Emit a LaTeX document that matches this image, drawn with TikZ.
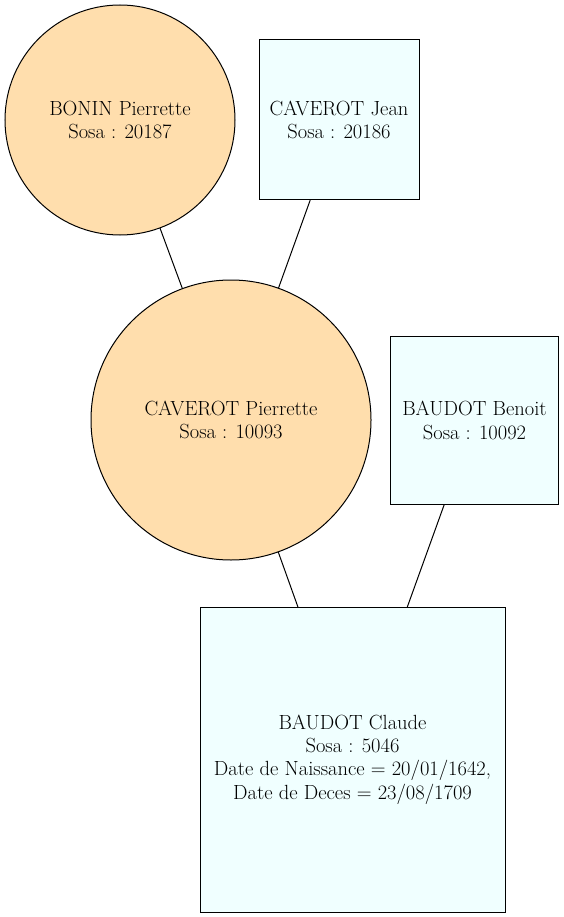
\documentclass[tikz,border=0pt]{standalone}
\usetikzlibrary{positioning}

\definecolor{femmefill}{RGB}{255,222,173}
\definecolor{hommefill}{RGB}{240,255,255}

\tikzset{
	personne/.style={draw=black, line width=1pt, inner sep=0pt, outer sep=0pt, align=center,
		font=\fontsize{20.5}{23.3}\selectfont},
	femme/.style={personne, circle, fill=femmefill},
	homme/.style={personne, rectangle, fill=hommefill},
	lien/.style={draw=black, line width=1pt}
}

\begin{document}
\begin{tikzpicture}[x=1pt,y=-1pt]
	\useasboundingbox (0,0) rectangle (564,917);

	\node[femme, minimum size=230pt]	(bonin)		at (120,120)	{BONIN Pierrette\\Sosa : 20187};
	\node[homme, minimum size=160pt]	(jean)		at (339,120)	{CAVEROT Jean\\Sosa : 20186};
	\node[femme, minimum size=280pt]	(pierrette)	at (231,420)	{CAVEROT Pierrette\\Sosa : 10093};
	\node[homme, minimum size=168pt]	(benoit)	at (474.5,420.5)	{BAUDOT Benoit\\Sosa : 10092};
	\node[homme, minimum size=305pt]	(claude)	at (352.5,759.5)	{BAUDOT Claude\\Sosa : 5046\\Date de Naissance = 20/01/1642,\\Date de Deces = 23/08/1709};

	\draw[lien]	(bonin) -- (pierrette);
	\draw[lien]	(jean) -- (pierrette);
	\draw[lien]	(pierrette) -- (claude);
	\draw[lien]	(benoit) -- (claude);
\end{tikzpicture}
\end{document}
